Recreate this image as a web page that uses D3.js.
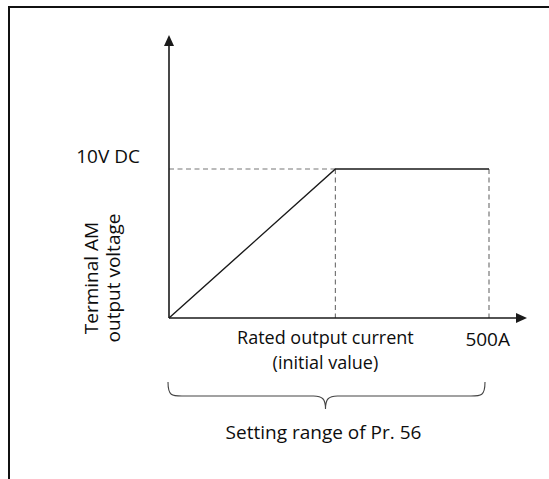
<!DOCTYPE html>
<html>
<head>
<meta charset="utf-8">
<script src="https://cdn.jsdelivr.net/npm/d3@7"></script>
<style>
  html, body { margin: 0; padding: 0; background: #fff; }
  svg { display: block; }
  text { font-family: "Open Sans", "Noto Sans", sans-serif; fill: #0d0d0d; }
</style>
</head>
<body>
<svg id="chart" width="549" height="479"></svg>
<script>
// Output characteristic of terminal AM: current (A) against output voltage (V DC)
const curveCurrent = [0, 260, 500];
const curveVoltage = [0, 10, 10];
const ratedCurrent = 260;
const maxCurrent = 500;
const fullScaleVoltage = 10;
const xTickLabels = ["Rated output current", "(initial value)"];
const maxLabel = "500A";
const yTickLabel = "10V DC";
const yTitle = ["Terminal AM", "output voltage"];
const rangeLabel = "Setting range of Pr. 56";

const svg = d3.select("#chart");

// Frame border (top and left edges)
const frame = svg.append("g").attr("stroke", "#111").attr("stroke-width", 2);
frame.append("line").attr("x1", 8).attr("x2", 549).attr("y1", 7).attr("y2", 7);
frame.append("line").attr("x1", 9).attr("x2", 9).attr("y1", 6).attr("y2", 479);

const x = d3.scaleLinear().domain([0, maxCurrent]).range([169, 489]);
const y = d3.scaleLinear().domain([0, fullScaleVoltage]).range([318, 169]);
const xEnd = x.invert(527);
const yEnd = y.invert(35);

// Dashed guide lines
const guide = svg.append("g")
  .attr("stroke", "#777").attr("stroke-width", 1.2)
  .attr("stroke-dasharray", "5,3.5").attr("fill", "none");
guide.append("line")
  .attr("x1", x(0)).attr("x2", x(ratedCurrent))
  .attr("y1", y(fullScaleVoltage)).attr("y2", y(fullScaleVoltage));
[ratedCurrent, maxCurrent].forEach(c => {
  guide.append("line")
    .attr("x1", x(c)).attr("x2", x(c))
    .attr("y1", y(fullScaleVoltage)).attr("y2", y(0));
});

// Axes with arrowheads
const axisColor = "#1a1a1a";
svg.append("line")
  .attr("x1", x(0)).attr("x2", x(xEnd) - 10)
  .attr("y1", y(0)).attr("y2", y(0))
  .attr("stroke", axisColor).attr("stroke-width", 1.6);
svg.append("line")
  .attr("x1", x(0)).attr("x2", x(0))
  .attr("y1", y(0)).attr("y2", y(yEnd) + 10)
  .attr("stroke", axisColor).attr("stroke-width", 1.6);
svg.append("path")
  .attr("d", `M${x(xEnd)},${y(0)} L${x(xEnd) - 11},${y(0) - 5} L${x(xEnd) - 11},${y(0) + 5} Z`)
  .attr("fill", axisColor);
svg.append("path")
  .attr("d", `M${x(0)},${y(yEnd)} L${x(0) - 5},${y(yEnd) + 11} L${x(0) + 5},${y(yEnd) + 11} Z`)
  .attr("fill", axisColor);

// Output curve
const line = d3.line().x((d, i) => x(curveCurrent[i])).y(d => y(d));
svg.append("path")
  .datum(curveVoltage)
  .attr("d", line)
  .attr("fill", "none").attr("stroke", "#1a1a1a").attr("stroke-width", 1.4);

// Labels
const fs = 19;
svg.append("text")
  .attr("x", 140).attr("y", 163)
  .attr("text-anchor", "end").attr("font-size", fs)
  .text(yTickLabel);

// Two-line label under the rated current mark
xTickLabels.forEach((t, i) => {
  svg.append("text")
    .attr("text-anchor", "middle").attr("font-size", 18)
    .attr("x", x(ratedCurrent) - 10).attr("y", 344 + i * 25)
    .text(t);
});

svg.append("text")
  .attr("x", 510).attr("y", 346)
  .attr("text-anchor", "end").attr("font-size", fs)
  .text(maxLabel);

// Two-line vertical axis title
const titleText = svg.append("text")
  .attr("transform", "translate(98,278) rotate(-90)")
  .attr("text-anchor", "middle").attr("font-size", fs);
yTitle.forEach((t, i) => {
  titleText.append("tspan")
    .attr("x", 0).attr("y", i * 22)
    .text(t);
});

// Brace spanning the setting range
const bx0 = x(0) - 1, bx1 = x(maxCurrent) - 4, bm = (bx0 + bx1) / 2 - 1;
const bTop = 382, bMid = 396, bTip = 409;
const brace = `M${bx0},${bTop} C${bx0},${bMid} ${bx0 + 4},${bMid} ${bx0 + 14},${bMid}
  L${bm - 12},${bMid} C${bm - 3},${bMid} ${bm},${bMid + 3} ${bm},${bTip}
  C${bm},${bMid + 3} ${bm + 3},${bMid} ${bm + 12},${bMid}
  L${bx1 - 14},${bMid} C${bx1 - 4},${bMid} ${bx1},${bMid} ${bx1},${bTop}`;
svg.append("path").attr("d", brace)
  .attr("fill", "none").attr("stroke", "#444").attr("stroke-width", 1.1);

svg.append("text")
  .attr("x", bm - 2).attr("y", 439)
  .attr("text-anchor", "middle").attr("font-size", fs)
  .text(rangeLabel);
</script>
</body>
</html>
